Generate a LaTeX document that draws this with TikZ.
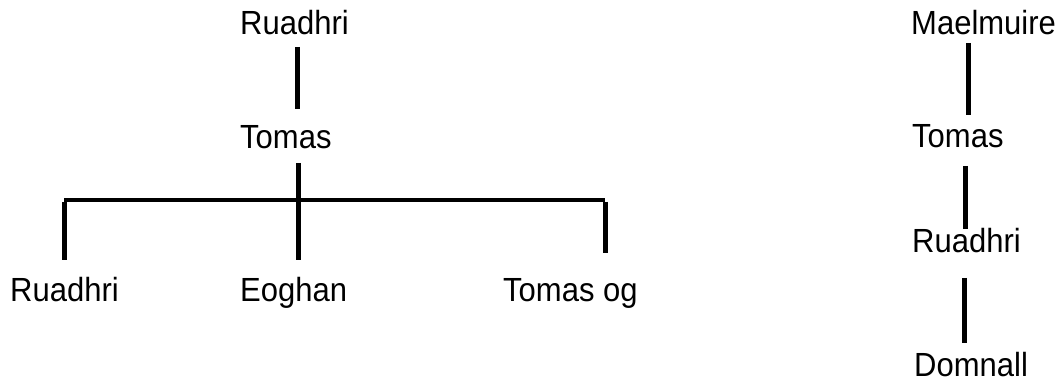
\documentclass[tikz,border=0pt]{standalone}
\usepackage{fontspec}
\setmainfont{Liberation Sans}
\newcommand\tall[1]{\scalebox{1}[1.08]{#1}}
\begin{document}
\begin{tikzpicture}[x=1pt,y=-1pt,
  person/.style={anchor=base west,inner sep=0pt,font=\fontsize{31}{36}\selectfont},
  link/.style={line width=5pt,line cap=butt}]
\useasboundingbox (0,0) rectangle (1063,379);
% left tree
\node[person] (r1) at (240,35) {\tall{Ruadhri}};
\node[person] (t1) at (240,149) {\tall{Tomas}};
\node[person] (r2) at (10,302) {\tall{Ruadhri}};
\node[person] (e1) at (240,302) {\tall{Eoghan}};
\node[person] (t2) at (503,302) {\tall{Tomas og}};
\coordinate (a1) at (297,47);
\coordinate (a2) at (297,109);
\coordinate (b1) at (298,163);
\coordinate (b2) at (298,260);
\coordinate (hl) at (64,200);
\coordinate (hr) at (605,200);
\coordinate (l2) at (64,260);
\coordinate (rr2) at (605,253);
\draw[link] (a1) -- (a2);
\draw[link] (b1) -- (b2);
\draw[link,line width=4.5pt] (hl) -- (hr);
\draw[link] ([yshift=-2pt]hl) -- (l2);
\draw[link] ([yshift=-2pt]hr) -- (rr2);
% right chain
\node[person] (m1) at (911,35) {\tall{Maelmuire}};
\node[person] (t3) at (912,148) {\tall{Tomas}};
\node[person] (r3) at (912,253) {\tall{Ruadhri}};
\node[person] (d1) at (914,377) {\tall{Domnall}};
\coordinate (c1) at (968,43);
\coordinate (c2) at (968,115);
\coordinate (d1a) at (965,166);
\coordinate (d1b) at (965,229);
\coordinate (e1a) at (964,278);
\coordinate (e1b) at (964,343);
\draw[link] (c1) -- (c2);
\draw[link] (d1a) -- (d1b);
\draw[link] (e1a) -- (e1b);
\end{tikzpicture}
\end{document}
